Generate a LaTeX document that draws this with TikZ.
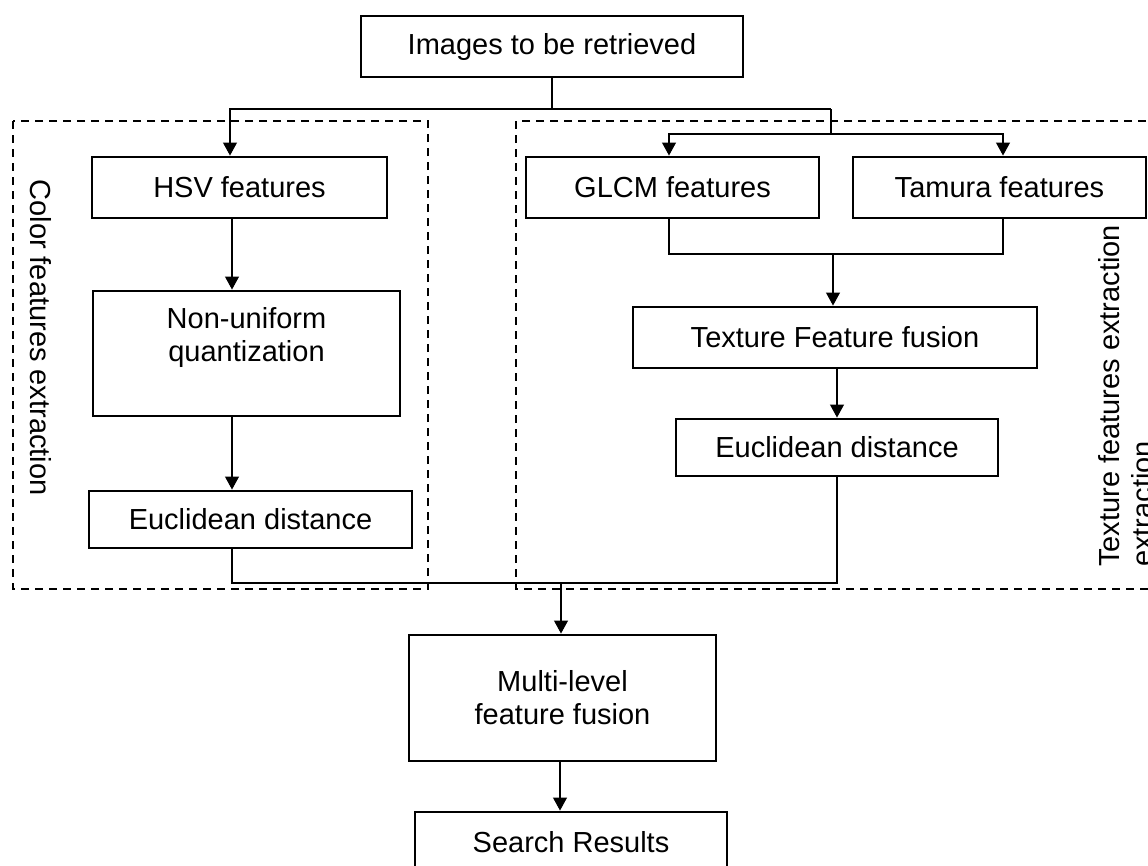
\documentclass[tikz,border=0pt]{standalone}
\usepackage{fontspec}
\setmainfont{Liberation Sans}
\usetikzlibrary{arrows.meta}
\begin{document}
\begin{tikzpicture}[x=0.75pt,y=-0.75pt,
  txt/.style={font=\fontsize{21.75pt}{24.75pt}\selectfont},
  box/.style={draw, line width=2.2pt, inner sep=0pt, align=center, txt},
  bx/.style 2 args={minimum width=#1*0.75pt, minimum height=#2*0.75pt},
  ln/.style={line width=0.8pt},
  arr/.style={ln, -{Triangle[width=10.5pt,length=9.75pt]}},
  dsh/.style={line width=1.5pt, dash pattern=on 6pt off 4.5pt},
  lbl/.style={txt, inner sep=0pt}]
\useasboundingbox (0,0) rectangle (1148,865);
% dashed group frames
\draw[dsh] (13,121) rectangle (428,589);
\draw[dsh] (516,121) rectangle (1175,589);
% boxes
\node[box, bx={382}{61}] (img)  at (552,46.5)  {Images to be retrieved};
\node[box, bx={295}{61}] (hsv)  at (239.5,187.5) {HSV features};
\node[box, bx={307}{125}] (nuq) at (246.5,353.5) {Non-uniform\\quantization\\\phantom{q}};
\node[box, bx={323}{57}] (eucL) at (250.5,519.5) {Euclidean distance};
\node[box, bx={293}{61}] (glcm) at (672.5,187.5) {GLCM features};
\node[box, bx={293}{61}] (tam)  at (999.5,187.5) {Tamura features};
\node[box, bx={404}{61}] (tff)  at (835,337.5) {Texture Feature fusion};
\node[box, bx={322}{57}] (eucR) at (837,447.5) {Euclidean distance};
\node[box, bx={307}{126}] (mlf) at (562.5,698) {Multi-level\\feature fusion};
\node[box, bx={312}{61}] (sr)   at (571,842.5) {Search Results};
% group labels
\node[lbl, rotate=-90, anchor=base] (clab) at (31,337.5) {Color features extraction};
\node[lbl, rotate=90, anchor=north west, align=left] (tlab) at (1098,567) {Texture features extraction\\extraction};
% junction coordinates
\coordinate (j0) at (552,109);
\coordinate (jl) at (230,109);
\coordinate (jr) at (831,109);
\coordinate (jr2) at (831,134);
\coordinate (jg) at (669,134);
\coordinate (jt) at (1003,134);
\coordinate (gb) at (669,254);
\coordinate (tb) at (1003,254);
\coordinate (jm) at (833,254);
\coordinate (lc) at (232,300);
\coordinate (rc) at (837,400);
\coordinate (bj) at (561,583);
\coordinate (bl) at (232,583);
\coordinate (br) at (837,583);
\coordinate (mc) at (560,780);
% connectors
\draw[ln] (img.south) -- (j0);
\draw[arr] (jr) -- (jl) -- (hsv.north -| jl);
\draw[ln] (jr) -- (jr2);
\draw[arr] (jr2) -- (jg) -- (glcm.north -| jg);
\draw[arr] (jr2) -- (jt) -- (tam.north -| jt);
\draw[ln] (glcm.south -| gb) -- (gb) -- (tb) -- (tam.south -| tb);
\draw[arr] (jm) -- (tff.north -| jm);
\draw[arr] (tff.south -| rc) -- (eucR.north -| rc);
\draw[arr] (hsv.south -| lc) -- (nuq.north -| lc);
\draw[arr] (nuq.south -| lc) -- (eucL.north -| lc);
\draw[ln] (eucL.south -| bl) -- (bl) -- (br) -- (eucR.south -| br);
\draw[arr] (bj) -- (mlf.north -| bj);
\draw[arr] (mlf.south -| mc) -- (sr.north -| mc);
\end{tikzpicture}
\end{document}
